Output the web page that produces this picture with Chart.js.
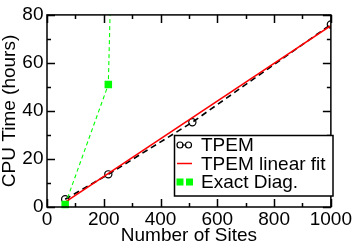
<!DOCTYPE html>
<html>
<head>
<meta charset="utf-8">
<script src="https://cdn.jsdelivr.net/npm/chart.js@4"></script>
<style>
  html, body { margin: 0; padding: 0; background: #fff; }
  canvas { display: block; }
</style>
</head>
<body>
<canvas id="cpuChart" width="354" height="244"></canvas>
<script>
// values
const siteCounts = [64, 216, 512, 1000];
const tpemHours = [3.2, 13.6, 35.3, 76];
const fitSites = [64, 1000];
const fitHours = [2.0, 75.5];
const exactSites = [64, 216, 512];
const exactHours = [1.0, 51, 1450];
const xTicks = [0, 200, 400, 600, 800, 1000];
const yTicks = [0, 20, 40, 60, 80];
const legendLabels = ["TPEM", "TPEM linear fit", "Exact Diag."];

const FONT = "'Liberation Sans', Arial, Helvetica, sans-serif";
const GREEN = "#00ff00";

const toPoints = (xs, ys) => xs.map((x, i) => ({ x: x, y: ys[i] }));
const midpoints = (t) => t.slice(1).map((v, i) => (v + t[i]) / 2);

// xmgrace style frame: box on all sides, ticks pointing inward
const framePlugin = {
  id: "frame",
  afterDatasetsDraw(chart) {
    const { ctx, chartArea: a, scales } = chart;
    ctx.save();
    ctx.strokeStyle = "#000";
    ctx.lineWidth = 1.5;
    ctx.beginPath();
    const xMarks = xTicks.map((v) => [v, 8]).concat(midpoints(xTicks).map((v) => [v, 4]));
    xMarks.forEach(([v, len]) => {
      const px = Math.round(scales.x.getPixelForValue(v)) + 0.5;
      ctx.moveTo(px, a.bottom); ctx.lineTo(px, a.bottom - len);
      ctx.moveTo(px, a.top); ctx.lineTo(px, a.top + len);
    });
    const yMarks = yTicks.map((v) => [v, 8]).concat(midpoints(yTicks).map((v) => [v, 4]));
    yMarks.forEach(([v, len]) => {
      const py = Math.round(scales.y.getPixelForValue(v)) + 0.5;
      ctx.moveTo(a.left, py); ctx.lineTo(a.left + len, py);
      ctx.moveTo(a.right, py); ctx.lineTo(a.right - len, py);
    });
    ctx.stroke();
    ctx.strokeRect(a.left, a.top, a.right - a.left, a.bottom - a.top);
    ctx.restore();
  },
  afterDraw(chart) {
    const { ctx } = chart;
    const box = { x: 174.5, y: 135.5, w: 158.5, h: 60.5 };
    ctx.save();
    ctx.fillStyle = "#fff";
    ctx.fillRect(box.x, box.y, box.w, box.h);
    ctx.strokeStyle = "#000";
    ctx.lineWidth = 1.5;
    ctx.strokeRect(box.x, box.y, box.w, box.h);

    const rows = [145, 163.5, 182];
    // TPEM: two circles joined
    ctx.lineWidth = 1.2;
    ctx.beginPath();
    ctx.moveTo(182, rows[0]); ctx.lineTo(186, rows[0]);
    ctx.stroke();
    [180, 188.5].forEach((cx) => {
      ctx.beginPath();
      ctx.arc(cx, rows[0], 3, 0, Math.PI * 2);
      ctx.stroke();
    });
    // linear fit: short red line
    ctx.strokeStyle = "#ff0000";
    ctx.lineWidth = 1.5;
    ctx.beginPath();
    ctx.moveTo(177, rows[1]); ctx.lineTo(192, rows[1]);
    ctx.stroke();
    // exact diag: two squares
    ctx.fillStyle = GREEN;
    ctx.fillRect(176.5, rows[2] - 3.5, 7, 7);
    ctx.fillRect(186, rows[2] - 3.5, 7, 7);

    ctx.fillStyle = "#000";
    ctx.font = "19px " + FONT;
    ctx.textBaseline = "middle";
    ctx.textAlign = "left";
    legendLabels.forEach((label, i) => ctx.fillText(label, 201, rows[i] + 1));
    ctx.restore();
  },
};

new Chart(document.getElementById("cpuChart"), {
  type: "scatter",
  data: {
    datasets: [
      {
        label: legendLabels[0],
        data: toPoints(siteCounts, tpemHours),
        showLine: true,
        borderColor: "#000",
        borderWidth: 1.6,
        borderDash: [6, 4],
        pointStyle: "circle",
        pointRadius: 3.6,
        pointBorderWidth: 1.2,
        pointBorderColor: "#000",
        pointBackgroundColor: "rgba(0,0,0,0)",
        order: 3,
      },
      {
        label: legendLabels[1],
        data: toPoints(fitSites, fitHours),
        showLine: true,
        borderColor: "#ff0000",
        borderWidth: 1.6,
        pointRadius: 0,
        order: 2,
      },
      {
        label: legendLabels[2],
        data: toPoints(exactSites, exactHours),
        showLine: true,
        borderColor: GREEN,
        borderWidth: 1.1,
        borderDash: [4, 3],
        pointStyle: "rect",
        pointRadius: 5.3,
        pointBorderWidth: 0,
        pointBackgroundColor: GREEN,
        clip: { left: 6, top: 0, right: 0, bottom: 6 },
        order: 1,
      },
    ],
  },
  options: {
    responsive: false,
    animation: false,
    devicePixelRatio: 1,
    layout: { padding: { top: 8, right: 22, left: 0, bottom: 0 } },
    plugins: { legend: { display: false }, tooltip: { enabled: false } },
    scales: {
      x: {
        type: "linear",
        min: 0,
        max: 1000,
        afterBuildTicks: (scale) => { scale.ticks = xTicks.map((v) => ({ value: v })); },
        afterFit: (scale) => { scale.height = 37; },
        grid: { display: false, drawTicks: false },
        border: { display: false },
        ticks: {
          color: "#000",
          padding: 2,
          maxRotation: 0,
          font: { family: FONT, size: 19, lineHeight: 1.1 },
          callback: (v) => String(v),
        },
        title: {
          display: true,
          text: "Number of Sites",
          color: "#000",
          padding: 0,
          font: { family: FONT, size: 19, lineHeight: 0.9 },
        },
      },
      y: {
        type: "linear",
        min: 0,
        max: 80,
        afterBuildTicks: (scale) => { scale.ticks = yTicks.map((v) => ({ value: v })); },
        afterFit: (scale) => { scale.width = 47; },
        grid: { display: false, drawTicks: false },
        border: { display: false },
        ticks: {
          color: "#000",
          padding: 3.5,
          font: { family: FONT, size: 19 },
          callback: (v) => String(v),
        },
        title: {
          display: true,
          text: "CPU Time (hours)",
          color: "#000",
          padding: 0,
          font: { family: FONT, size: 19, lineHeight: 1 },
        },
      },
    },
  },
  plugins: [framePlugin],
});
</script>
</body>
</html>
